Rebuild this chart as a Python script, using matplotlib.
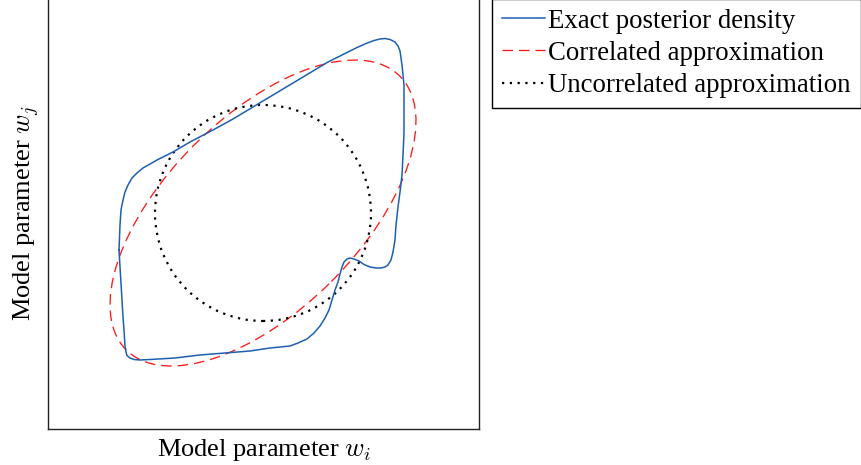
import matplotlib
matplotlib.use("Agg")
import matplotlib.pyplot as plt
from matplotlib.patches import Ellipse, Circle
from matplotlib.lines import Line2D

plt.rcParams['font.family'] = ['Liberation Serif', 'DejaVu Serif']
plt.rcParams['mathtext.fontset'] = 'cm'

# Exact posterior density contour (arbitrary units)
exact_x = [71, 72, 73, 75, 77, 80, 84, 89, 95, 102, 109, 117, 125, 142, 165, 185, 205, 220,
           235, 250, 265, 280, 295, 308, 318, 326, 332, 337, 342, 347, 350, 352, 353, 354,
           355, 356, 356, 356, 355, 354, 352, 350, 348, 347, 345, 343, 340, 337, 333, 328,
           322, 316, 311, 306, 302, 299, 296, 294, 292, 290, 287, 284, 281, 277, 272, 266,
           259, 250, 242, 222, 202, 177, 152, 127, 102, 92, 86, 82, 79, 78, 77, 76, 75, 74,
           73, 72, 71]
exact_y = [179, 204, 219, 229, 237, 244, 251, 256, 261, 265, 269, 273, 277, 287, 299, 310,
           322, 331, 340, 349, 358, 367, 374.5, 381, 385.5, 388.5, 390, 390.5, 389.5, 387,
           383, 378, 371, 364, 354, 344, 319, 296, 274, 254, 237, 222, 204, 189, 177, 169,
           164, 162, 161, 161, 162, 164.5, 168, 170, 171, 170, 167, 162, 155, 147, 139, 129,
           119, 111, 103, 96, 90, 86, 83, 81, 78, 76, 74, 71, 69.5, 69, 69.5, 71, 73.5, 77,
           83, 99, 112, 129, 146, 162, 179]

# Correlated (Gaussian) approximation: centre, semi-axes, orientation
corr_center = (215, 216)
corr_semi_major = 193.5
corr_semi_minor = 96.8
corr_angle = 45

# Uncorrelated approximation: centre and radius
unc_center = (215, 216)
unc_radius = 108

labels = ["Exact posterior density", "Correlated approximation", "Uncorrelated approximation"]

W, H = 862, 465
fig = plt.figure(figsize=(W / 100, H / 100), dpi=100)
ax = fig.add_axes([48 / W, 36 / H, 431 / W, 431 / H])
ax.set_xlim(0, 431)
ax.set_ylim(0, 431)

blue = '#1f5fb0'
red = '#ff1a1a'

ax.plot(exact_x, exact_y, color=blue, lw=1.1, solid_joinstyle='round')
ax.add_patch(Ellipse(corr_center, 2 * corr_semi_major, 2 * corr_semi_minor, angle=corr_angle,
                     fill=False, edgecolor=red, lw=0.95, linestyle=(0, (8, 4.5))))
ax.add_patch(Circle(unc_center, unc_radius, fill=False, edgecolor='black', lw=1.6,
                    linestyle=(0, (1, 2.5))))

ax.set_xticks([])
ax.set_yticks([])
for s in ax.spines.values():
    s.set_linewidth(1.0)
    s.set_color('#222222')

ax.set_xlabel(r"Model parameter $w_i$", fontsize=19, labelpad=6)
ax.set_ylabel(r"Model parameter $w_j$", fontsize=19, labelpad=5)

handles = [
    Line2D([], [], color=blue, lw=1.1),
    Line2D([], [], color=red, lw=0.95, linestyle=(0, (8, 4.5))),
    Line2D([], [], color='black', lw=1.6, linestyle=(0, (1, 2.5))),
]
leg = fig.legend(handles, labels, loc='upper left', bbox_to_anchor=(492 / W, 1.003),
                 bbox_transform=fig.transFigure, fontsize=19.3, frameon=True,
                 fancybox=False, edgecolor='black', framealpha=1, handlelength=1.6,
                 handletextpad=0.13, labelspacing=0.27, borderpad=0.37, borderaxespad=0)
leg.get_frame().set_linewidth(1.0)

fig.savefig("out.png", dpi=100)
